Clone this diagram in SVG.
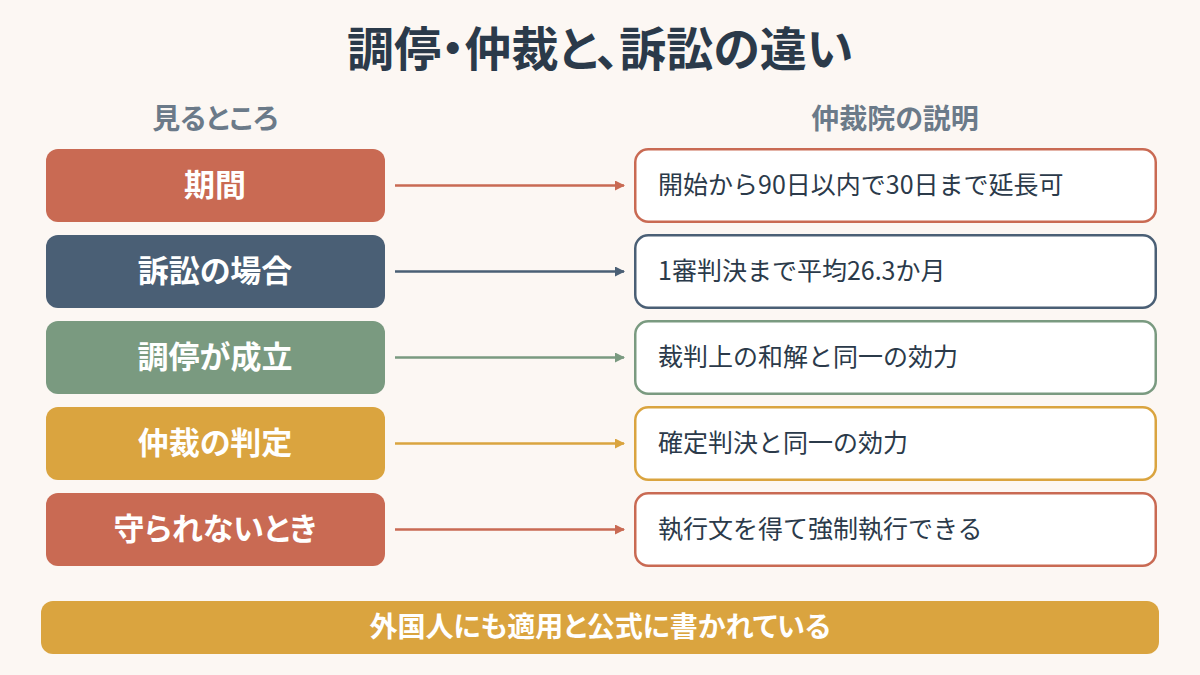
<svg xmlns="http://www.w3.org/2000/svg" width="1200" height="675" viewBox="0 0 1200 675">
<style>
text{font-family:"Noto Sans CJK JP","Noto Sans",sans-serif}
.p{font-feature-settings:"palt"}
.title{font-size:47px;font-weight:700;fill:#2B3A4A;text-anchor:middle}
.head{font-size:28px;font-weight:700;fill:#6B7A89;text-anchor:middle}
.lt{font-size:31px;font-weight:700;fill:#fff;text-anchor:middle}
.ft{font-size:28px;font-weight:700;fill:#fff;text-anchor:middle}
.rt{font-size:25px;fill:#2B3A4A}
.rbox{fill:#fff;stroke-width:2.5}
.red{fill:#C96A53}.navy{fill:#4A5F75}.green{fill:#7A9A80}.gold{fill:#DAA43F}
.sred{stroke:#C96A53}.snavy{stroke:#4A5F75}.sgreen{stroke:#7A9A80}.sgold{stroke:#DAA43F}
.conn{stroke-width:2.5;fill:none}
</style>
<defs>
<marker id="ar-red" viewBox="0 0 10 10" refX="9" refY="5" markerWidth="4" markerHeight="4" orient="auto"><path d="M0,0L10,5L0,10z" fill="#C96A53"/></marker>
<marker id="ar-navy" viewBox="0 0 10 10" refX="9" refY="5" markerWidth="4" markerHeight="4" orient="auto"><path d="M0,0L10,5L0,10z" fill="#4A5F75"/></marker>
<marker id="ar-green" viewBox="0 0 10 10" refX="9" refY="5" markerWidth="4" markerHeight="4" orient="auto"><path d="M0,0L10,5L0,10z" fill="#7A9A80"/></marker>
<marker id="ar-gold" viewBox="0 0 10 10" refX="9" refY="5" markerWidth="4" markerHeight="4" orient="auto"><path d="M0,0L10,5L0,10z" fill="#DAA43F"/></marker>
</defs>
<rect width="1200" height="675" fill="#FCF7F3"/>
<text class="title p" x="600" y="66">調停・仲裁と、訴訟の違い</text>
<text class="head p" x="215" y="129">見るところ</text>
<text class="head p" x="895" y="129">仲裁院の説明</text>

<g id="connectors">
<line class="conn sred" x1="395" y1="185.5" x2="624" y2="185.5" marker-end="url(#ar-red)"/>
<line class="conn snavy" x1="395" y1="271.5" x2="624" y2="271.5" marker-end="url(#ar-navy)"/>
<line class="conn sgreen" x1="395" y1="357.5" x2="624" y2="357.5" marker-end="url(#ar-green)"/>
<line class="conn sgold" x1="395" y1="443.5" x2="624" y2="443.5" marker-end="url(#ar-gold)"/>
<line class="conn sred" x1="395" y1="529.5" x2="624" y2="529.5" marker-end="url(#ar-red)"/>
</g>

<g id="l1"><rect class="red" x="46" y="149" width="339" height="73" rx="12"/><text class="lt p" x="215" y="196">期間</text></g>
<g id="l2"><rect class="navy" x="46" y="235" width="339" height="73" rx="12"/><text class="lt p" x="215" y="282">訴訟の場合</text></g>
<g id="l3"><rect class="green" x="46" y="321" width="339" height="73" rx="12"/><text class="lt p" x="215" y="368">調停が成立</text></g>
<g id="l4"><rect class="gold" x="46" y="407" width="339" height="73" rx="12"/><text class="lt p" x="215" y="454">仲裁の判定</text></g>
<g id="l5"><rect class="red" x="46" y="493" width="339" height="73" rx="12"/><text class="lt p" x="215" y="540">守られないとき</text></g>

<g id="r1"><rect class="rbox sred" x="635.25" y="149.25" width="520.5" height="72.5" rx="13"/><text class="rt" x="658" y="194">開始から90日以内で30日まで延長可</text></g>
<g id="r2"><rect class="rbox snavy" x="635.25" y="235.25" width="520.5" height="72.5" rx="13"/><text class="rt" x="658" y="280">1審判決まで平均26.3か月</text></g>
<g id="r3"><rect class="rbox sgreen" x="635.25" y="321.25" width="520.5" height="72.5" rx="13"/><text class="rt" x="658" y="366">裁判上の和解と同一の効力</text></g>
<g id="r4"><rect class="rbox sgold" x="635.25" y="407.25" width="520.5" height="72.5" rx="13"/><text class="rt" x="658" y="452">確定判決と同一の効力</text></g>
<g id="r5"><rect class="rbox sred" x="635.25" y="493.25" width="520.5" height="72.5" rx="13"/><text class="rt" x="658" y="538">執行文を得て強制執行できる</text></g>

<g id="footer"><rect class="gold" x="41" y="601" width="1118" height="53" rx="12"/><text class="ft p" x="600" y="637">外国人にも適用と公式に書かれている</text></g>
</svg>
